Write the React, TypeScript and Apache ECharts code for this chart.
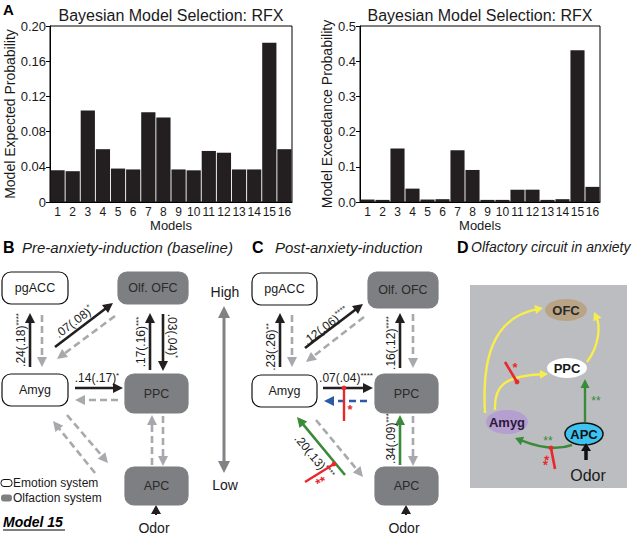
import React, { useEffect, useRef } from 'react';
import * as echarts from 'echarts';

const models = ['1', '2', '3', '4', '5', '6', '7', '8', '9', '10', '11', '12', '13', '14', '15', '16'];
const expectedProb = [0.036, 0.035, 0.104, 0.060, 0.038, 0.037, 0.102, 0.096, 0.037, 0.036, 0.058, 0.056, 0.037, 0.037, 0.181, 0.060];
const exceedanceProb = [0.007, 0.006, 0.152, 0.038, 0.007, 0.008, 0.147, 0.091, 0.006, 0.006, 0.035, 0.035, 0.006, 0.008, 0.431, 0.043];
const chartTitle = 'Bayesian Model Selection: RFX';
const yNameLeft = 'Model Expected Probability';
const yNameRight = 'Model Exceedance Probability';

const FONT = 'Arial, "Liberation Sans", sans-serif';
const DARK = '#231f20';
const GRAY_ARROW = '#a7a9ac';
const GRAY_BOX = '#7e7f82';
const GREEN = '#3b8a3a';
const RED = '#e8282b';
const BLUE = '#2d5aa8';
const YELLOW = '#f7ee4c';

function head(x2: number, y2: number, ang: number, color: string, len = 9, wid = 5) {
  const bx = x2 - len * Math.cos(ang);
  const by = y2 - len * Math.sin(ang);
  const px = -Math.sin(ang);
  const py = Math.cos(ang);
  return {
    type: 'polygon',
    silent: true,
    shape: { points: [[x2, y2], [bx + px * wid, by + py * wid], [bx - px * wid, by - py * wid]] },
    style: { fill: color },
  };
}

function arrow(x1: number, y1: number, x2: number, y2: number, color: string, dashed = false, width = 2.6, len = 10, wid = 5) {
  const ang = Math.atan2(y2 - y1, x2 - x1);
  const ex = x2 - (len - 2) * Math.cos(ang);
  const ey = y2 - (len - 2) * Math.sin(ang);
  return [
    {
      type: 'line',
      silent: true,
      shape: { x1, y1, x2: ex, y2: ey },
      style: { stroke: color, lineWidth: width, lineDash: dashed ? [7, 4] : null },
    },
    head(x2, y2, ang, color, len, wid),
  ];
}

function curveArrow(x1: number, y1: number, c1x: number, c1y: number, c2x: number, c2y: number, x2: number, y2: number, color: string, width = 2.4) {
  const ang = Math.atan2(y2 - c2y, x2 - c2x);
  const ex = x2 - 6 * Math.cos(ang);
  const ey = y2 - 6 * Math.sin(ang);
  return [
    {
      type: 'bezierCurve',
      silent: true,
      shape: { x1, y1, x2: ex, y2: ey, cpx1: c1x, cpy1: c1y, cpx2: c2x, cpy2: c2y },
      style: { stroke: color, lineWidth: width, fill: null },
    },
    head(x2, y2, ang, color, 8, 4.5),
  ];
}

function box(x: number, y: number, w: number, h: number, label: string, filled: boolean) {
  return [
    {
      type: 'rect',
      silent: true,
      shape: { x, y, width: w, height: h, r: 9 },
      style: { fill: filled ? GRAY_BOX : '#ffffff', stroke: filled ? GRAY_BOX : '#111', lineWidth: 1.2 },
    },
    {
      type: 'text',
      silent: true,
      x: x + w / 2,
      y: y + h / 2,
      style: { text: label, fill: filled ? '#2a2a2a' : '#1a1a1a', fontSize: 12.5, fontFamily: FONT, align: 'center', verticalAlign: 'middle' },
    },
  ];
}

function txt(x: number, y: number, text: string, opts: any = {}, rotation = 0) {
  return {
    type: 'text',
    silent: true,
    x,
    y,
    rotation,
    style: Object.assign({ text, fill: '#1a1a1a', fontSize: 12, fontFamily: FONT, align: 'center', verticalAlign: 'middle' }, opts),
  };
}

function starLabel(x: number, y: number, value: string, stars: string, rotation = 0) {
  return {
    type: 'text',
    silent: true,
    x,
    y,
    rotation,
    style: {
      text: `{a|${value}}{s|${stars}}`,
      align: 'center',
      verticalAlign: 'middle',
      rich: {
        a: { fontSize: 12, fontFamily: FONT, fill: '#1a1a1a', lineHeight: 14 },
        s: { fontSize: 8, fontFamily: FONT, fill: '#1a1a1a', verticalAlign: 'top', lineHeight: 14, padding: [0, 0, 5, 0] },
      },
    },
  };
}

function ellipse(cx: number, cy: number, rx: number, ry: number, fill: string, label: string, color: string, stroke?: string) {
  return [
    {
      type: 'ellipse',
      silent: true,
      shape: { cx, cy, rx, ry },
      style: { fill, stroke: stroke || null, lineWidth: stroke ? 1.5 : 0 },
    },
    txt(cx, cy, label, { fontWeight: 'bold', fontSize: 13, fill: color }),
  ];
}

function buildGraphics() {
  const g: any[] = [];
  const UP = Math.PI / 2;
  // Panel letters & titles
  g.push(txt(3, 9, 'A', { fontWeight: 'bold', fontSize: 15, align: 'left', fill: '#000' }));
  g.push(txt(3, 247, 'B', { fontWeight: 'bold', fontSize: 16, align: 'left', fill: '#000' }));
  g.push(txt(22, 247, 'Pre-anxiety-induction (baseline)', { fontStyle: 'italic', fontSize: 15, align: 'left' }));
  g.push(txt(252, 247, 'C', { fontWeight: 'bold', fontSize: 16, align: 'left', fill: '#000' }));
  g.push(txt(275, 247, 'Post-anxiety-induction', { fontStyle: 'italic', fontSize: 15, align: 'left' }));
  g.push(txt(457, 247, 'D', { fontWeight: 'bold', fontSize: 16, align: 'left', fill: '#000' }));
  g.push(txt(471, 247, 'Olfactory circuit in anxiety', { fontStyle: 'italic', fontSize: 14, align: 'left' }));

  // ---------- Panel B ----------
  g.push(...arrow(30, 367, 30, 313, DARK));
  g.push(...arrow(42, 315, 42, 367, GRAY_ARROW, true));
  g.push(starLabel(21, 340, '.24(.18)', '****', UP));
  g.push(...arrow(55, 347, 113, 303, DARK));
  g.push(...arrow(115, 316, 57, 359, GRAY_ARROW, true));
  g.push(starLabel(74, 322, '.07(.08)', '*', 0.65));
  g.push(...arrow(150, 370, 150, 313, DARK));
  g.push(...arrow(163, 314, 163, 371, DARK));
  g.push(starLabel(141, 342, '.17(.16)', '***', UP));
  g.push(starLabel(172, 336, '.03(.04)', '*', -UP));
  g.push(...arrow(75, 388, 123, 388, DARK));
  g.push(...arrow(118, 400, 75, 400, GRAY_ARROW, true));
  g.push(starLabel(97, 378, '.14(.17)', '*'));
  g.push(...arrow(152, 465, 152, 415, GRAY_ARROW, true));
  g.push(...arrow(163, 416, 163, 466, GRAY_ARROW, true));
  g.push(...arrow(67, 415, 108, 463, GRAY_ARROW, true));
  g.push(...arrow(95, 473, 53, 421, GRAY_ARROW, true));
  g.push(...arrow(156, 515, 156, 505, DARK, false, 2, 9, 5));
  g.push(txt(154, 528, 'Odor', { fontSize: 14 }));
  // High / Low
  g.push(...arrow(224, 390, 224, 306, '#808285', false, 3, 12, 6));
  g.push(...arrow(224, 390, 224, 473, '#808285', false, 3, 12, 6));
  g.push(txt(225, 292, 'High', { fontSize: 14 }));
  g.push(txt(225, 485, 'Low', { fontSize: 14 }));
  // boxes
  g.push(...box(2, 272, 66, 32, 'pgACC', false));
  g.push(...box(118, 272, 70, 32, 'Olf. OFC', true));
  g.push(...box(2, 374, 66, 32, 'Amyg', false));
  g.push(...box(125, 374, 63, 39, 'PPC', true));
  g.push(...box(125, 467, 63, 38, 'APC', true));
  // legend
  g.push({ type: 'rect', silent: true, shape: { x: 1, y: 479.5, width: 11, height: 7, r: 3 }, style: { fill: '#fff', stroke: '#111', lineWidth: 1 } });
  g.push(txt(13, 483, 'Emotion system', { fontSize: 12, align: 'left' }));
  g.push({ type: 'rect', silent: true, shape: { x: 1, y: 494.5, width: 11, height: 7, r: 3 }, style: { fill: GRAY_BOX } });
  g.push(txt(13, 498, 'Olfaction system', { fontSize: 12, align: 'left' }));
  g.push(txt(3, 522, 'Model 15', { fontSize: 14, fontWeight: 'bold', fontStyle: 'italic', align: 'left', fill: '#000' }));
  g.push({ type: 'line', silent: true, shape: { x1: 3, y1: 530, x2: 65, y2: 530 }, style: { stroke: '#000', lineWidth: 1.2 } });

  // ---------- Panel C ----------
  g.push(...arrow(280, 367, 280, 313, DARK));
  g.push(...arrow(292, 315, 292, 367, GRAY_ARROW, true));
  g.push(starLabel(271, 347, '.23(.26)', '**', UP));
  g.push(...arrow(305, 348, 363, 304, DARK));
  g.push(...arrow(364, 317, 306, 362, GRAY_ARROW, true));
  g.push(starLabel(326, 326, '.12(.06)', '****', 0.65));
  g.push(...arrow(400, 368, 400, 313, DARK));
  g.push(...arrow(413, 314, 413, 368, GRAY_ARROW, true));
  g.push(starLabel(391, 343, '.16(.12)', '****', UP));
  g.push(...arrow(323, 388, 373, 388, DARK));
  g.push(...arrow(367, 401, 324, 401, BLUE, true));
  g.push(starLabel(346, 378, '.07(.04)', '****'));
  g.push({ type: 'line', silent: true, shape: { x1: 344, y1: 388, x2: 344, y2: 421 }, style: { stroke: RED, lineWidth: 2.4 } });
  g.push({ type: 'circle', silent: true, shape: { cx: 344, cy: 388, r: 2.4 }, style: { fill: RED } });
  g.push(txt(350, 409, '*', { fill: RED, fontSize: 13, fontWeight: 'bold' }));
  g.push(...arrow(400, 465, 400, 415, GREEN));
  g.push(...arrow(413, 416, 413, 466, GRAY_ARROW, true));
  g.push(starLabel(391, 437, '.34(.09)', '****', UP));
  g.push(...arrow(316, 420, 363, 477, GRAY_ARROW, true));
  g.push(...arrow(345, 475, 297, 417, GREEN));
  g.push(starLabel(314, 457, '.20(.13)', '****', -0.88));
  g.push({ type: 'line', silent: true, shape: { x1: 305, y1: 482, x2: 334, y2: 464 }, style: { stroke: RED, lineWidth: 2.4 } });
  g.push({ type: 'circle', silent: true, shape: { cx: 334, cy: 464, r: 2.4 }, style: { fill: RED } });
  g.push(txt(321, 482, '**', { fill: RED, fontSize: 13, fontWeight: 'bold' }, 0.5));
  g.push(...arrow(406, 515, 406, 505, DARK, false, 2, 9, 5));
  g.push(txt(404, 528, 'Odor', { fontSize: 14 }));
  g.push(...box(252, 273, 65, 32, 'pgACC', false));
  g.push(...box(368, 272, 70, 36, 'Olf. OFC', true));
  g.push(...box(252, 375, 65, 32, 'Amyg', false));
  g.push(...box(375, 374, 63, 39, 'PPC', true));
  g.push(...box(375, 467, 63, 38, 'APC', true));

  // ---------- Panel D ----------
  g.push({ type: 'rect', silent: true, shape: { x: 470, y: 285, width: 157, height: 203 }, style: { fill: '#bcbdc0' } });
  g.push(...curveArrow(485, 413, 482, 360, 492, 318, 543, 308, YELLOW));
  g.push(...curveArrow(495, 410, 494, 385, 505, 376, 548, 374, YELLOW));
  g.push(...curveArrow(587, 362, 600, 345, 600, 325, 594, 312, YELLOW));
  g.push(...arrow(585, 422, 585, 379, GREEN, false, 2.4, 9, 4.5));
  g.push(...curveArrow(572, 445, 558, 450, 540, 448, 515, 438, GREEN));
  g.push({ type: 'line', silent: true, shape: { x1: 505, y1: 362, x2: 517, y2: 382 }, style: { stroke: RED, lineWidth: 2.6 } });
  g.push({ type: 'circle', silent: true, shape: { cx: 517, cy: 382, r: 2.4 }, style: { fill: RED } });
  g.push(txt(515, 367, '*', { fill: RED, fontSize: 13, fontWeight: 'bold' }));
  g.push({ type: 'line', silent: true, shape: { x1: 551, y1: 448, x2: 555, y2: 469 }, style: { stroke: RED, lineWidth: 2.6 } });
  g.push({ type: 'circle', silent: true, shape: { cx: 551, cy: 448, r: 2.4 }, style: { fill: RED } });
  g.push(txt(548, 461, '**', { fill: RED, fontSize: 13, fontWeight: 'bold' }, 1.3));
  g.push(txt(548, 441, '**', { fill: GREEN, fontSize: 12 }));
  g.push(txt(596, 401, '**', { fill: GREEN, fontSize: 12 }));
  g.push(...ellipse(566, 310, 21, 11, '#b9a586', 'OFC', '#2a2a2a'));
  g.push(...ellipse(567, 368, 20, 10, '#ffffff', 'PPC', '#1a1a1a'));
  g.push(...ellipse(507, 422, 21, 12, '#b49fd0', 'Amyg', '#2a1a3a'));
  g.push(...ellipse(584, 434, 19, 11, '#3ec3ef', 'APC', '#111', '#111'));
  g.push(...arrow(586, 460, 586, 443, '#111', false, 3.5, 8, 5));
  g.push(txt(588, 475, 'Odor', { fontSize: 16 }));
  return g;
}

function barAxes(max: number, interval: number, digits: number, name: string, gridIndex: number, nameGap: number) {
  return {
    x: {
      gridIndex,
      type: 'category',
      data: models,
      axisTick: { show: false },
      axisLine: { lineStyle: { color: '#000', width: 1 } },
      axisLabel: { interval: 0, fontSize: 12, color: '#1a1a1a', fontFamily: FONT, margin: 4 },
      name: 'Models',
      nameLocation: 'middle',
      nameGap: 17,
      nameTextStyle: { fontSize: 13, color: '#1a1a1a', fontFamily: FONT },
    },
    y: {
      gridIndex,
      type: 'value',
      min: 0,
      max,
      interval,
      splitLine: { show: false },
      axisLine: { show: true, lineStyle: { color: '#000', width: 1 } },
      axisTick: { show: true, length: 4, lineStyle: { color: '#000' } },
      axisLabel: {
        fontSize: 13,
        color: '#1a1a1a',
        fontFamily: FONT,
        margin: 4,
        formatter: (v: number) => (v === 0 && digits === 2 ? '0' : v.toFixed(digits)),
      },
      name,
      nameLocation: 'middle',
      nameGap,
      nameTextStyle: { fontSize: 14, color: '#1a1a1a', fontFamily: FONT },
    },
  };
}

export default function App() {
  const ref = useRef<HTMLDivElement>(null);
  useEffect(() => {
    if (!ref.current) return;
    const chart = echarts.init(ref.current, null, { renderer: 'svg' });
    const a1 = barAxes(0.2, 0.04, 2, yNameLeft, 0, 31);
    const a2 = barAxes(0.5, 0.1, 1, yNameRight, 1, 25);
    chart.setOption({
      animation: false,
      backgroundColor: '#ffffff',
      textStyle: { fontFamily: FONT },
      title: [
        { text: chartTitle, left: 166, top: 2, textAlign: 'center', textStyle: { fontSize: 16, fontWeight: 'normal', color: '#1a1a1a', fontFamily: FONT } },
        { text: chartTitle, left: 475, top: 2, textAlign: 'center', textStyle: { fontSize: 16, fontWeight: 'normal', color: '#1a1a1a', fontFamily: FONT } },
      ],
      grid: [
        { left: 50, top: 26, width: 242, height: 176, show: true, borderColor: '#000', borderWidth: 1 },
        { left: 360, top: 26, width: 240, height: 176, show: true, borderColor: '#000', borderWidth: 1 },
      ],
      xAxis: [a1.x, a2.x],
      yAxis: [a1.y, a2.y],
      series: [
        { type: 'bar', xAxisIndex: 0, yAxisIndex: 0, data: expectedProb, barCategoryGap: '6%', itemStyle: { color: DARK } },
        { type: 'bar', xAxisIndex: 1, yAxisIndex: 1, data: exceedanceProb, barCategoryGap: '6%', itemStyle: { color: DARK } },
      ],
      graphic: buildGraphics(),
    });
    return () => chart.dispose();
  }, []);
  return <div ref={ref} style={{ position: 'absolute', left: 0, top: 0, width: 640, height: 535 }} />;
}
